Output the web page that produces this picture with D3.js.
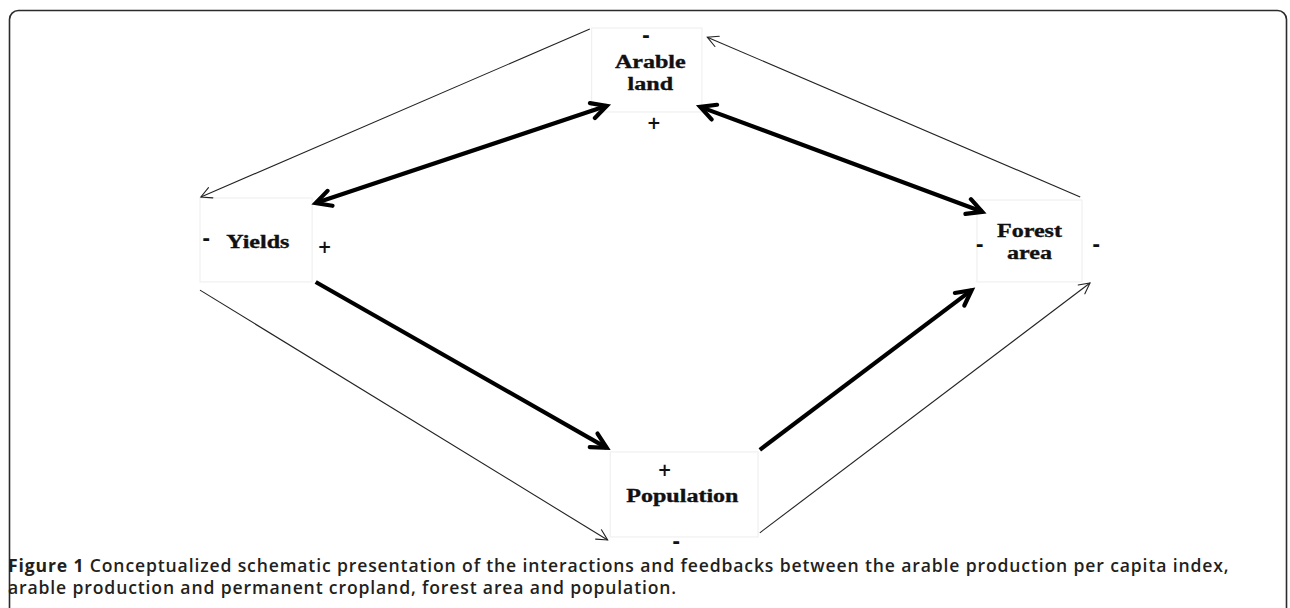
<!DOCTYPE html>
<html>
<head>
<meta charset="utf-8">
<script src="https://cdnjs.cloudflare.com/ajax/libs/d3/7.8.5/d3.min.js"></script>
<style>
  body { margin: 0; background: #fff; }
  svg { display: block; }
</style>
</head>
<body>
<svg id="chart" width="1290" height="608"></svg>
<script>
// diagram units: x 0..100, y 0..100
var boxNames = ["Arable land", "Yields", "Forest area", "Population"];
var boxLines = [["Arable", "land"], ["Yields"], ["Forest", "area"], ["Population"]];
var boxX0 = [44.0, 0.0, 87.3, 46.1];
var boxX1 = [56.4, 12.6, 99.1, 62.7];
var boxY0 = [0.0, 33.2, 33.6, 82.8];
var boxY1 = [16.4, 49.6, 49.6, 99.4];
var textX = [50.6, 6.5, 93.2, 54.2];
var textY = [7.8, 42.9, 40.8, 92.6];

// signs around boxes
var signText = ["-", "+", "-", "+", "-", "-", "+", "-"];
var signX = [50.1, 51.0, 0.7, 14.0, 87.6, 100.7, 52.2, 53.5];
var signY = [1.6, 18.6, 41.3, 42.7, 42.4, 42.4, 86.4, 100.3];

// arrows: [x1,y1] -> [x2,y2]; kind: thick / thin; both: head at start too
var arrowFrom = [[45.7, 15.2], [56.2, 15.4], [13.0, 49.6], [62.9, 82.4], [43.8, 0.2], [98.9, 33.0], [0.0, 51.2], [62.9, 98.6]];
var arrowTo   = [[13.0, 34.2], [87.9, 35.9], [45.7, 82.0], [86.7, 51.2], [0.1, 33.0], [57.0, 1.8], [45.8, 100.0], [100.0, 49.8]];
var arrowKind = ["thick", "thick", "thick", "thick", "thin", "thin", "thin", "thin"];
var arrowBoth = [true, true, false, false, false, false, false, false];

var captionBold = "Figure 1";
var captionLines = [
  "Conceptualized schematic presentation of the interactions and feedbacks between the arable production per capita index,",
  "arable production and permanent cropland, forest area and population."
];

var svg = d3.select("#chart");
var x = d3.scaleLinear().domain([0, 100]).range([200, 1090]);
var y = d3.scaleLinear().domain([0, 100]).range([28, 540]);

// frame
svg.append("rect")
  .attr("x", 9.5).attr("y", 10.5)
  .attr("width", 1277).attr("height", 700)
  .attr("rx", 9).attr("ry", 9)
  .attr("fill", "none").attr("stroke", "#2b2b2b").attr("stroke-width", 1.6);

var defs = svg.append("defs");
defs.append("filter").attr("id", "soft")
  .attr("x", "-10%").attr("y", "-10%").attr("width", "120%").attr("height", "120%")
  .append("feGaussianBlur").attr("stdDeviation", 0.6);

// boxes
var boxes = svg.selectAll(".box").data(boxNames).enter().append("g").attr("class", "box");
boxes.append("rect")
  .attr("x", (d, i) => x(boxX0[i]))
  .attr("y", (d, i) => y(boxY0[i]))
  .attr("width", (d, i) => x(boxX1[i]) - x(boxX0[i]))
  .attr("height", (d, i) => y(boxY1[i]) - y(boxY0[i]))
  .attr("fill", "#fff").attr("stroke", "#f0f0f0").attr("stroke-width", 1.2);

boxes.each(function(d, i) {
  var g = d3.select(this);
  boxLines[i].forEach(function(line, j) {
    var t = g.append("text")
      .attr("x", x(textX[i]))
      .attr("y", y(textY[i]) + j * 22)
      .attr("text-anchor", "middle")
      .style("font-family", "'Liberation Serif', 'Times New Roman', serif")
      .attr("font-weight", "bold")
      .attr("font-size", 18.5)
      .attr("fill", "#111")
      .attr("stroke", "#111").attr("stroke-width", 0.35)
      .text(line);
    var len = t.node().getComputedTextLength();
    t.attr("textLength", len * 1.3).attr("lengthAdjust", "spacingAndGlyphs");
  });
});

// signs
svg.selectAll(".sign").data(signText).enter().append("text")
  .attr("class", "sign")
  .attr("x", (d, i) => x(signX[i]))
  .attr("y", (d, i) => y(signY[i]) + 6)
  .attr("text-anchor", "middle")
  .style("font-family", "'DejaVu Sans', sans-serif")
  .attr("font-weight", "bold")
  .attr("font-size", d => d == "+" ? 17 : 19)
  .attr("fill", "#111")
  .text(d => d);

// arrows
function headPath(tip, from, len, ang) {
  var a = Math.atan2(from[1] - tip[1], from[0] - tip[0]);
  var p1 = [tip[0] + len * Math.cos(a + ang), tip[1] + len * Math.sin(a + ang)];
  var p2 = [tip[0] + len * Math.cos(a - ang), tip[1] + len * Math.sin(a - ang)];
  return "M" + p1 + "L" + tip + "L" + p2;
}

var arrows = svg.selectAll(".arrow").data(arrowKind).enter().append("g")
  .attr("class", "arrow")
  .attr("filter", d => d == "thick" ? "url(#soft)" : null);

arrows.each(function(kind, i) {
  var g = d3.select(this);
  var p0 = [x(arrowFrom[i][0]), y(arrowFrom[i][1])];
  var p1 = [x(arrowTo[i][0]), y(arrowTo[i][1])];
  var w = kind == "thick" ? 4.2 : 1.1;
  var hl = kind == "thick" ? 17 : 12;
  var col = kind == "thick" ? "#000" : "#222";
  g.append("line")
    .attr("x1", p0[0]).attr("y1", p0[1]).attr("x2", p1[0]).attr("y2", p1[1])
    .attr("stroke", col).attr("stroke-width", w);
  var d = headPath(p1, p0, hl, 0.48);
  if (arrowBoth[i]) d += headPath(p0, p1, hl, 0.48);
  g.append("path").attr("d", d)
    .attr("fill", "none").attr("stroke", col).attr("stroke-width", w)
    .attr("stroke-linejoin", "miter").attr("stroke-linecap", "round");
});

// caption
var cap = svg.append("g").style("font-family", "'Open Sans', 'Noto Sans', sans-serif")
  .attr("font-size", 17.6).attr("fill", "#231f20");
captionLines.forEach(function(line, j) {
  var t = cap.append("text").attr("x", 8).attr("y", 572 + j * 22)
    .attr("letter-spacing", 0.85);
  if (j == 0) {
    t.append("tspan").attr("font-weight", 700).text(captionBold + " ");
  }
  t.append("tspan").attr("font-weight", 600).text(line);
});
</script>
</body>
</html>
